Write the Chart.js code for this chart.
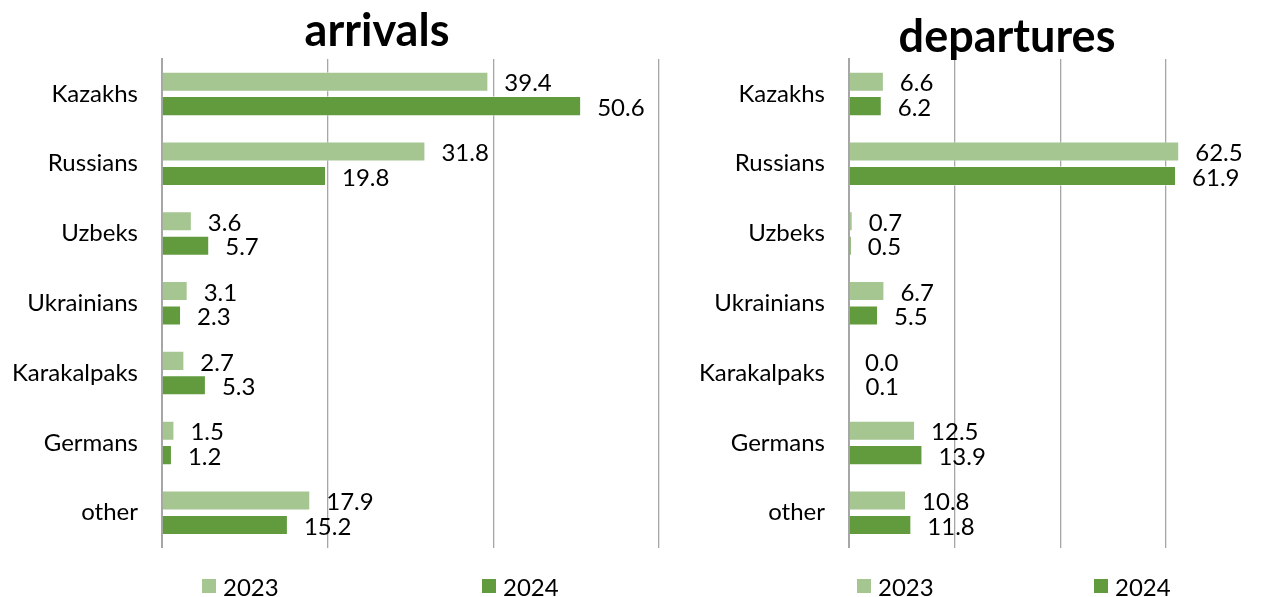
<!DOCTYPE html>
<html>
<head>
<meta charset="utf-8">
<script src="https://cdn.jsdelivr.net/npm/chart.js@4.4.1/dist/chart.umd.min.js"></script>
<style>
  html, body { margin: 0; padding: 0; background: #fff; overflow: hidden; }
  #wrap { position: relative; width: 1261px; height: 597px; overflow: hidden; }
  canvas { position: absolute; top: 0; }
  #arrChart { left: 0; }
  #depChart { left: 690px; }
  .title { position: absolute; width: 300px; text-align: center; font-family: Lato, sans-serif;
           font-weight: bold; font-size: 45px; line-height: 45px; color: #000; }
  .legend { position: absolute; top: 572px; font-family: Lato, sans-serif; font-size: 24px; color: #000; }
  .legend span.box { position: absolute; top: 7px; width: 14px; height: 14px; }
  .legend span.txt { position: absolute; top: 0; white-space: nowrap; }
</style>
</head>
<body>
<div id="wrap">
  <canvas id="arrChart" width="756" height="586"></canvas>
  <canvas id="depChart" width="571" height="586"></canvas>
  <div class="title" id="titleArr" style="left:227px; top:7px;"></div>
  <div class="title" id="titleDep" style="left:857px; top:13px;"></div>
  <div class="legend" id="legArr"></div>
  <div class="legend" id="legDep"></div>
</div>
<script>
// data
let titles = ['arrivals', 'departures'];
let categories = ['Kazakhs', 'Russians', 'Uzbeks', 'Ukrainians', 'Karakalpaks', 'Germans', 'other'];
let seriesNames = ['2023', '2024'];
let arrivals2023 = [39.4, 31.8, 3.6, 3.1, 2.7, 1.5, 17.9];
let arrivals2024 = [50.6, 19.8, 5.7, 2.3, 5.3, 1.2, 15.2];
let departures2023 = [6.6, 62.5, 0.7, 6.7, 0.0, 12.5, 10.8];
let departures2024 = [6.2, 61.9, 0.5, 5.5, 0.1, 13.9, 11.8];
let axisTicks = [0, 20, 40, 60];

let lightGreen = '#a5c591';
let darkGreen = '#629b3e';
let gridGray = '#a6a6a6';
let fontName = 'Lato, sans-serif';

// value labels to the right of each bar
let valueLabels = {
    id: 'valueLabels',
    afterDatasetsDraw: function (chart) {
        let ctx = chart.ctx;
        ctx.save();
        ctx.font = '24px ' + fontName;
        ctx.fillStyle = '#000';
        ctx.textAlign = 'left';
        ctx.textBaseline = 'middle';
        chart.data.datasets.forEach(function (ds, i) {
            chart.getDatasetMeta(i).data.forEach(function (bar, j) {
                ctx.fillText(ds.data[j].toFixed(1), bar.x + 16, bar.y + 2);
            });
        });
        ctx.restore();
    }
};

function makeChart(id, d2023, d2024, axisWidth, rightPad) {
    let ctx = document.getElementById(id).getContext('2d');
    let common = {
        borderColor: 'rgba(255,255,255,0.5)',
        borderWidth: 1,
        categoryPercentage: 0.7,
        barPercentage: 0.82,
        clip: false
    };
    return new Chart(ctx, {
        type: 'bar',
        data: {
            labels: categories,
            datasets: [
                Object.assign({ label: seriesNames[0], data: d2023, backgroundColor: lightGreen }, common),
                Object.assign({ label: seriesNames[1], data: d2024, backgroundColor: darkGreen }, common)
            ]
        },
        options: {
            indexAxis: 'y',
            responsive: false,
            animation: false,
            layout: { padding: { left: 0, right: rightPad, top: 59, bottom: 11 } },
            plugins: {
                legend: { display: false },
                tooltip: { enabled: false },
                title: { display: false }
            },
            scales: {
                x: {
                    min: axisTicks[0],
                    max: axisTicks[axisTicks.length - 1],
                    afterBuildTicks: function (scale) {
                        scale.ticks = axisTicks.map(function (v) { return { value: v }; });
                    },
                    ticks: { display: false },
                    grid: { color: gridGray, lineWidth: 1.3, drawTicks: false },
                    border: { display: false },
                    afterFit: function (scale) { scale.height = 0; }
                },
                y: {
                    ticks: {
                        color: '#000',
                        padding: 24,
                        font: { family: fontName, size: 24 }
                    },
                    grid: { display: false, drawTicks: false },
                    border: { color: gridGray, width: 2 },
                    afterFit: function (scale) { scale.width = axisWidth; }
                }
            }
        },
        plugins: [valueLabels]
    });
}

makeChart('arrChart', arrivals2023, arrivals2024, 162, 97);
makeChart('depChart', departures2023, departures2024, 159, 95);

document.getElementById('titleArr').textContent = titles[0];
document.getElementById('titleDep').textContent = titles[1];

// legends under each panel
function buildLegend(id, boxX, txtX) {
    let el = document.getElementById(id);
    let colors = [lightGreen, darkGreen];
    seriesNames.forEach(function (name, i) {
        let box = document.createElement('span');
        box.className = 'box';
        box.style.left = boxX[i] + 'px';
        box.style.background = colors[i];
        let txt = document.createElement('span');
        txt.className = 'txt';
        txt.style.left = txtX[i] + 'px';
        txt.textContent = name;
        el.appendChild(box);
        el.appendChild(txt);
    });
}
buildLegend('legArr', [202, 482], [223, 503]);
buildLegend('legDep', [857, 1094], [878, 1115]);
</script>
</body>
</html>
